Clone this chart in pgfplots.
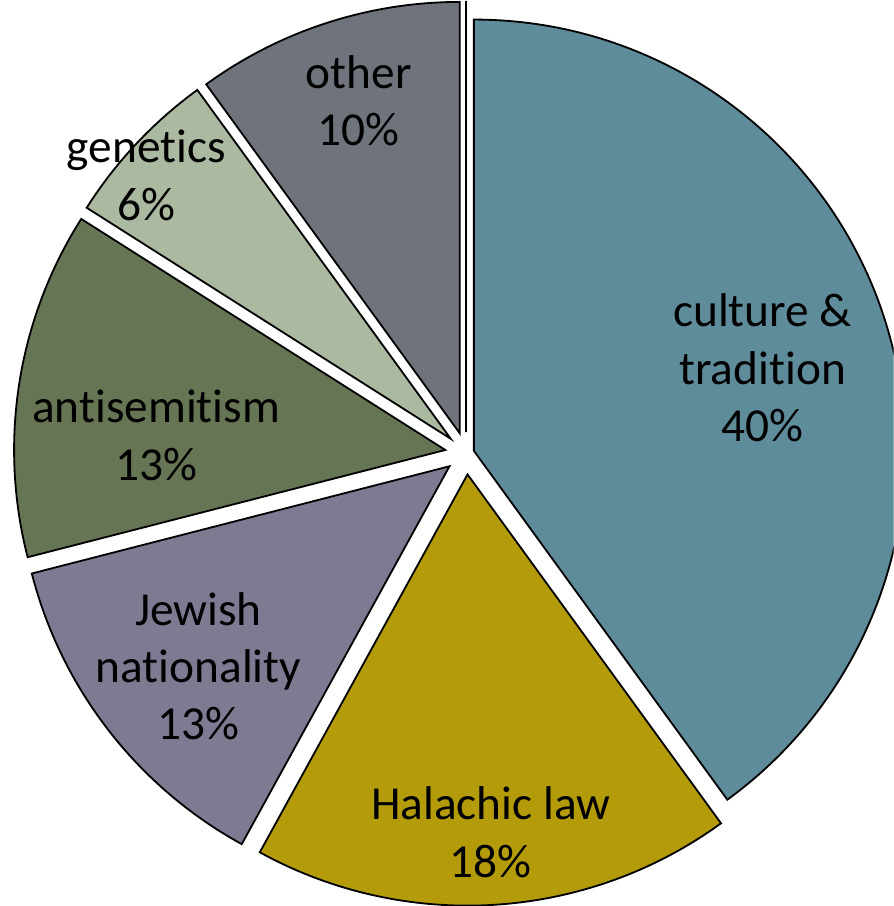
\documentclass[border=0pt]{standalone}
\usepackage{pgfplots}
\pgfplotsset{compat=1.18}
\usepackage{fontspec}
\setmainfont[Ligatures=NoCommon]{Carlito}
\usetikzlibrary{calc}

\definecolor{culture}{RGB}{95,140,154}
\definecolor{halachic}{RGB}{180,155,10}
\definecolor{jewish}{RGB}{126,122,146}
\definecolor{antisem}{RGB}{102,117,83}
\definecolor{genetics}{RGB}{170,185,159}
\definecolor{other}{RGB}{110,115,124}

% one slice: share in percent, fill colour, explode offset
\def\curang{90}
\newcommand\pieslice[3]{%
  \pgfmathsetmacro\endang{\curang-3.6*#1}%
  \pgfmathsetmacro\midang{(\curang+\endang)/2}%
  \filldraw[fill=#2, draw=black, line width=0.9pt]
    ($(axis cs:462.7,449.3)+(\midang:#3)$) -- ++(\curang:214pt)
    arc[start angle=\curang, end angle=\endang, radius=214pt] -- cycle;
  \global\let\curang\endang
}

\begin{document}
\begin{tikzpicture}
\begin{axis}[
    x=0.5pt, y=0.5pt,
    xmin=0, xmax=887, ymin=0, ymax=906,
    hide axis,
    clip=true,
]
\pgfplotsextra{
  \pieslice{40}{culture}{4pt}
  \pieslice{18}{halachic}{10.5pt}
  \pieslice{13}{jewish}{10.5pt}
  \pieslice{13}{antisem}{10.5pt}
  \pieslice{6}{genetics}{10.5pt}
  \pieslice{10}{other}{10.5pt}
  \pieslice{0}{other}{10.5pt}
}
\tikzset{lbl/.style={align=center, font=\fontsize{23.5}{28.5}\selectfont, inner sep=0pt}}
\node[lbl] at (axis cs:757,534) {culture \&\\tradition\\40\%};
\node[lbl] at (axis cs:487,73) {Halachic law\\18\%};
\node[lbl] at (axis cs:197,238) {Jewish\\nationality\\13\%};
\node[lbl] at (axis cs:155,467) {antisemitism\\13\%};
\node[lbl] at (axis cs:145,725) {genetics\\6\%};
\node[lbl] at (axis cs:356,799) {other\\10\%};
\end{axis}
\end{tikzpicture}
\end{document}
